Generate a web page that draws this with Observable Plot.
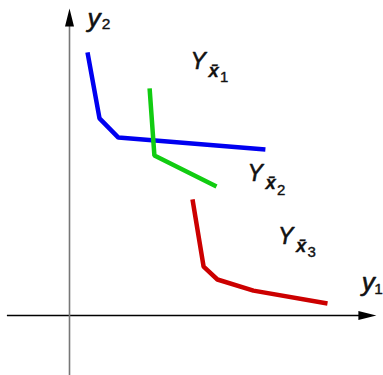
<!DOCTYPE html>
<html>
<head>
<meta charset="utf-8">
<script src="https://cdn.jsdelivr.net/npm/d3@7"></script>
<script src="https://cdn.jsdelivr.net/npm/@observablehq/plot@0.6"></script>
<style>
  html, body { margin: 0; padding: 0; background: #fff; }
  #chart svg { display: block; }
</style>
</head>
<body>
<div id="chart"></div>
<script>
// Data (units: y1 horizontal, y2 vertical)
const blueY1  = [0.6, 1.0, 1.63, 6.53];
const blueY2  = [8.77, 6.57, 5.93, 5.53];
const greenY1 = [2.67, 2.83, 4.9];
const greenY2 = [7.57, 5.33, 4.3];
const redY1   = [4.1, 4.47, 4.93, 6.13, 8.6];
const redY2   = [3.87, 1.63, 1.2, 0.83, 0.4];

const setIndex = ["1", "2", "3"];
const setLabelY1 = [4.03, 5.93, 6.95];
const setLabelY2 = [8.22, 4.47, 2.39];

const axisY1Extent = [-2.07, 10.23];
const axisY2Extent = [-2.0, 10.23];
const axisY1Label = {name: "y", index: "1", at: [9.74, 0.81]};
const axisY2Label = {name: "y", index: "2", at: [0.6, 9.62]};

// filled arrowhead symbol, tip at the origin, pointing up
const arrowHead = {
  draw(ctx) {
    ctx.moveTo(0, 0);
    ctx.lineTo(-4.5, 18);
    ctx.lineTo(4.5, 18);
    ctx.closePath();
  }
};

const font = "Liberation Sans, Arial, Helvetica, sans-serif";
const ink = "#111";
const weight = {stroke: "#111", strokeWidth: 0.6, strokeOpacity: 1};

function axisLabel(lab, subDx, subDy) {
  return [
    Plot.text([lab], {
      x: d => d.at[0], y: d => d.at[1], text: d => d.name,
      textAnchor: "start", lineAnchor: "bottom", fontSize: 26, fontStyle: "italic", fill: ink, ...weight
    }),
    Plot.text([lab], {
      x: d => d.at[0], y: d => d.at[1], text: d => d.index, dx: subDx, dy: subDy,
      textAnchor: "start", lineAnchor: "bottom", fontSize: 15.5, fill: ink, ...weight, strokeWidth: 0.4
    })
  ];
}

const chart = Plot.plot({
  width: 383,
  height: 375,
  margin: 0,
  x: {domain: [-2.3, 10.4667], axis: null},
  y: {domain: [-2, 10.5], axis: null},
  style: {fontFamily: font, background: "#fff"},
  marks: [
    // axes
    Plot.ruleY([0], {x1: axisY1Extent[0], x2: axisY1Extent[1] - 0.3, stroke: "#000", strokeWidth: 1.3}),
    Plot.ruleX([0], {y1: axisY2Extent[0], y2: axisY2Extent[1] - 0.3, stroke: "#777", strokeWidth: 1.6}),
    Plot.dot([0], {x: 0, y: axisY2Extent[1], symbol: arrowHead, fill: "#000", stroke: null, r: 5}),
    Plot.dot([0], {x: axisY1Extent[1], y: 0, symbol: arrowHead, fill: "#000", stroke: null, r: 5, rotate: 90}),
    // curves
    Plot.line(blueY1, {x: blueY1, y: blueY2, stroke: "#0000f0", strokeWidth: 4.5, strokeLinecap: "butt", strokeLinejoin: "miter"}),
    Plot.line(greenY1, {x: greenY1, y: greenY2, stroke: "#11cc11", strokeWidth: 4.5, strokeLinecap: "butt", strokeLinejoin: "miter"}),
    Plot.line(redY1, {x: redY1, y: redY2, stroke: "#cc0000", strokeWidth: 4.5, strokeLinecap: "butt", strokeLinejoin: "miter"}),
    // axis labels
    ...axisLabel(axisY1Label, 12.5, 3.2),
    ...axisLabel(axisY2Label, 14.3, 2.2),
    // set labels Y_{x̄_i}
    Plot.text(setIndex, {
      x: setLabelY1, y: setLabelY2, text: () => "Y",
      textAnchor: "start", lineAnchor: "bottom", fontSize: 23, fontStyle: "italic", fill: ink, ...weight
    }),
    Plot.text(setIndex, {
      x: setLabelY1, y: setLabelY2, text: () => "x\u0304", dx: 18, dy: 8,
      textAnchor: "start", lineAnchor: "bottom", fontSize: 18.5, fontStyle: "italic", fontWeight: "bold", fill: ink, ...weight, strokeWidth: 0.3
    }),
    Plot.text(setIndex, {
      x: setLabelY1, y: setLabelY2, text: d => d, dx: 29.5, dy: 13.4,
      textAnchor: "start", lineAnchor: "bottom", fontSize: 15, fill: ink, ...weight, strokeWidth: 0.4
    })
  ]
});
document.getElementById("chart").append(chart);
</script>
</body>
</html>
